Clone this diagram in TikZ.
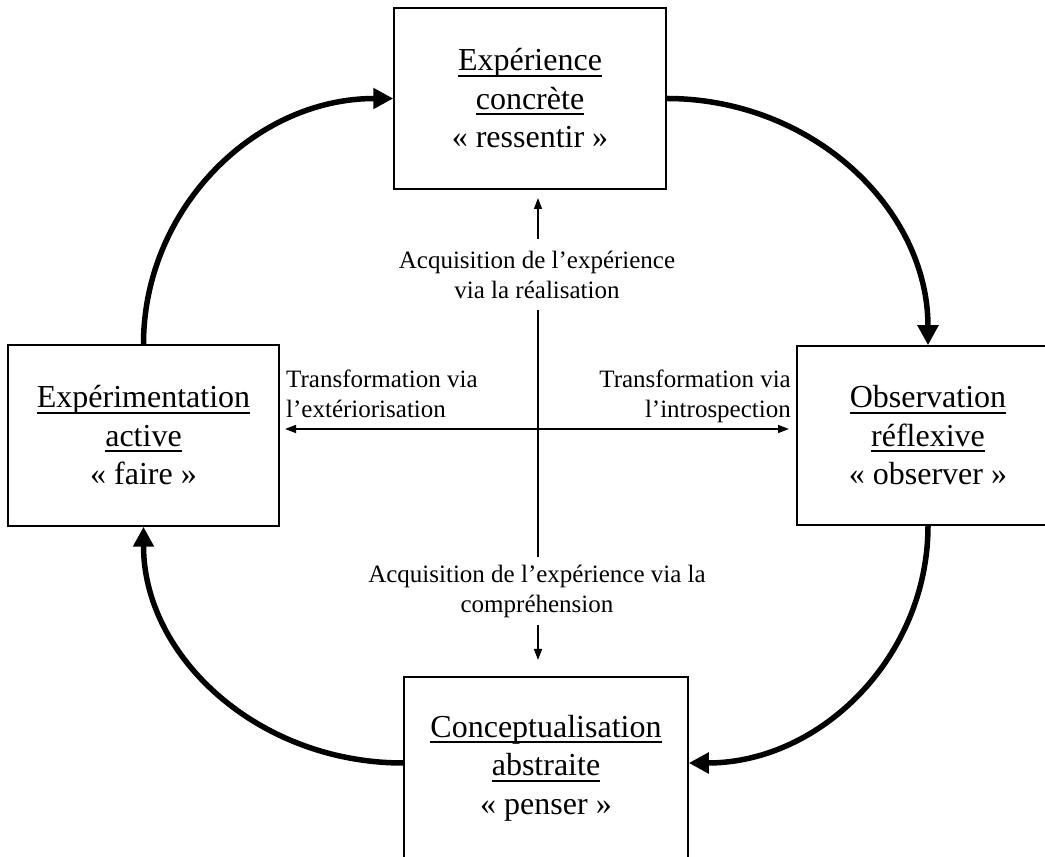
\documentclass[tikz,border=0pt]{standalone}
\usepackage{fontspec}
\setmainfont{Liberation Serif}
\usetikzlibrary{arrows.meta}
\newcommand{\ulx}[1]{\setbox0=\hbox{#1}\rlap{\rule[-6pt]{\wd0}{2pt}}\box0}
\begin{document}
\begin{tikzpicture}[x=1pt,y=1pt,
  box/.style={draw=black, line width=1.5pt, align=center, inner sep=0pt,
              font=\fontsize{32}{38.5}\selectfont},
  lbl/.style={align=center, inner sep=0pt, font=\fontsize{25}{30}\selectfont},
  cycarrow/.style={line width=5.5pt, -{Triangle[length=20pt,width=20pt]}},
  axarrow/.style={line width=1.5pt, -{Triangle[length=11pt,width=8pt]}}]
\useasboundingbox (0,0) rectangle (1045,857);
% boxes
\node[box, minimum width=272pt, minimum height=181pt] (exp) at (530,758.5)
  {\ulx{Expérience}\\\ulx{concrète}\\« ressentir »};
\node[box, minimum width=271pt, minimum height=181pt] (act) at (143.5,421.5)
  {\ulx{Expérimentation}\\\ulx{active}\\« faire »};
\node[box, minimum width=262pt, minimum height=179pt] (obs) at (928,421.5)
  {\ulx{Observation}\\\ulx{réflexive}\\« observer »};
\node[box, minimum width=284pt, minimum height=182pt] (con) at (546,89)
  {\ulx{Conceptualisation}\\\ulx{abstraite}\\« penser »};
% cycle arrows
\draw[cycarrow] (exp.east) .. controls +(145,0) and +(0,137) .. (obs.north);
\draw[cycarrow] (obs.south) .. controls +(0,-131) and +(132,0) .. ([yshift=5pt]con.east);
\draw[cycarrow] ([yshift=5pt]con.west) .. controls +(-144,0) and +(0,-131) .. (act.south);
\draw[cycarrow] (act.north) .. controls +(0,135) and +(-139,0) .. (exp.west);
% axes
\coordinate (c) at (538,428);
\coordinate (tn) at (538,659);
\coordinate (ts) at (538,197);
\coordinate (tw) at (285,428);
\coordinate (te) at (789,428);
\draw[axarrow] (c) -- (tn);
\draw[axarrow] (c) -- (ts);
\draw[axarrow] (c) -- (tw);
\draw[axarrow] (c) -- (te);
% labels
\node[lbl, fill=white, inner xsep=4pt, inner ysep=12pt] (ln) at (537,582.5)
  {Acquisition de l’expérience\\via la réalisation};
\node[lbl, fill=white, inner xsep=4pt, inner ysep=8pt] (ls) at (537,266)
  {Acquisition de l’expérience via la\\compréhension};
\node[lbl, anchor=north west, align=left] (lw) at (286,487)
  {Transformation via\\l’extériorisation};
\node[lbl, anchor=north east, align=right] (le) at (791,487)
  {Transformation via\\l’introspection};
\end{tikzpicture}
\end{document}
